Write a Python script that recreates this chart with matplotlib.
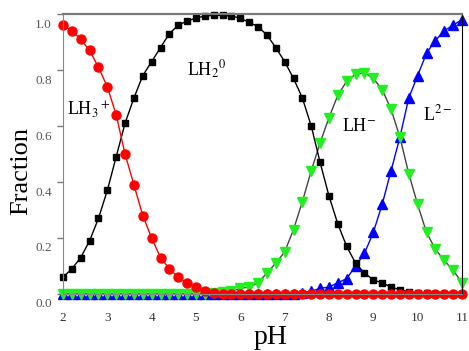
import matplotlib
matplotlib.use("Agg")
import matplotlib.pyplot as plt
import matplotlib.transforms as mtransforms

plt.rcParams['font.family'] = ['Liberation Serif', 'DejaVu Serif']
plt.rcParams['mathtext.fontset'] = 'stix'

# pH grid (0.2 steps)
ph = [2.0, 2.2, 2.4, 2.6, 2.8, 3.0, 3.2, 3.4, 3.6, 3.8,
      4.0, 4.2, 4.4, 4.6, 4.8, 5.0, 5.2, 5.4, 5.6, 5.8,
      6.0, 6.2, 6.4, 6.6, 6.8, 7.0, 7.2, 7.4, 7.6, 7.8,
      8.0, 8.2, 8.4, 8.6, 8.8, 9.0, 9.2, 9.4, 9.6, 9.8,
      10.0, 10.2, 10.4, 10.6, 10.8, 11.0]

# species fractions
lh3 = [0.96, 0.94, 0.91, 0.87, 0.81, 0.74, 0.64, 0.50, 0.39, 0.28,
       0.20, 0.13, 0.09, 0.06, 0.04, 0.025, 0.012, 0.005, 0.0, 0.0,
       0.0, 0.0, 0.0, 0.0, 0.0, 0.0, 0.0, 0.0, 0.0, 0.0,
       0.0, 0.0, 0.0, 0.0, 0.0, 0.0, 0.0, 0.0, 0.0, 0.0,
       0.0, 0.0, 0.0, 0.0, 0.0, 0.0]
lh2 = [0.06, 0.09, 0.13, 0.19, 0.27, 0.37, 0.49, 0.61, 0.70, 0.78,
       0.83, 0.88, 0.93, 0.96, 0.975, 0.985, 0.993, 0.995, 0.995, 0.993,
       0.985, 0.97, 0.955, 0.925, 0.88, 0.83, 0.77, 0.70, 0.60, 0.47,
       0.35, 0.25, 0.17, 0.11, 0.075, 0.05, 0.04, 0.025, 0.015, 0.008,
       0.004, 0.002, 0.0, 0.0, 0.0, 0.0]
lh = [0.0, 0.0, 0.0, 0.0, 0.0, 0.0, 0.0, 0.0, 0.0, 0.0,
      0.0, 0.0, 0.0, 0.0, 0.0, 0.0, 0.0, 0.003, 0.006, 0.01,
      0.02, 0.025, 0.04, 0.075, 0.11, 0.15, 0.23, 0.33, 0.44, 0.54,
      0.63, 0.71, 0.76, 0.785, 0.79, 0.77, 0.73, 0.66, 0.56, 0.43,
      0.32, 0.22, 0.16, 0.12, 0.085, 0.04]
l2 = [0.0, 0.0, 0.0, 0.0, 0.0, 0.0, 0.0, 0.0, 0.0, 0.0,
      0.0, 0.0, 0.0, 0.0, 0.0, 0.0, 0.0, 0.0, 0.0, 0.0,
      0.0, 0.0, 0.0, 0.0, 0.0, 0.0, 0.0, 0.005, 0.01, 0.02,
      0.025, 0.04, 0.055, 0.10, 0.145, 0.22, 0.32, 0.44, 0.56, 0.70,
      0.78, 0.86, 0.905, 0.94, 0.96, 0.98]

fig = plt.figure(figsize=(4.69, 3.51), dpi=100)
ax = fig.add_axes([0.1343, 0.1624, 0.8507, 0.7977])

ax.plot(ph, l2, color='#0000ff', lw=1, marker='^', ms=6.5, clip_on=False)
ax.plot(ph, lh, color='#444444', lw=1, marker='v', ms=6.5,
        mfc='#22ee22', mec='#22ee22', clip_on=False)
ax.plot(ph, lh2, color='black', lw=1, marker='s', ms=5, clip_on=False)
ax.plot(ph, lh3, color='#ff0000', lw=1, marker='o', ms=6.5, clip_on=False)

ax.set_xlim(2, 11)
ax.set_ylim(0, 1.0)
ax.set_xticks([2, 3, 4, 5, 6, 7, 8, 9, 10, 11])
ax.set_yticks([0.0, 0.2, 0.4, 0.6, 0.8, 1.0])
ax.set_yticklabels(['0.0', '0.2', '0.4', '0.6', '0.8', '1.0'])
ax.tick_params(axis='x', length=0, pad=13, labelsize=9.5, labelcolor='#333333')
ax.tick_params(axis='y', length=4, width=1, color='#777777', pad=4,
               labelsize=9.5, labelcolor='#555555')

# labels in the original sit a little below their tick marks
offset = mtransforms.ScaledTranslation(0, -0.09, fig.dpi_scale_trans)
for lab in ax.get_yticklabels():
    lab.set_transform(lab.get_transform() + offset)

for side in ['left', 'bottom']:
    ax.spines[side].set_color('#888888')
ax.spines['top'].set_color('#777777')
ax.spines['top'].set_linewidth(1.6)
ax.spines['right'].set_color('black')

ax.set_xlabel('pH', fontsize=20)
ax.xaxis.set_label_coords(0.519, -0.11)
ax.set_ylabel('Fraction', fontsize=19)
ax.yaxis.set_label_coords(-0.078, 0.44)

ax.text(2.09, 0.66, r'LH$_3$$^+$', fontsize=13, va='center', ha='left')
ax.text(4.8, 0.80, r'LH$_2$$^0$', fontsize=13, va='center', ha='left')
ax.text(8.29, 0.60, r'LH$^{-}$', fontsize=13, va='center', ha='left')
ax.text(10.12, 0.64, r'L$^{2-}$', fontsize=13, va='center', ha='left')

fig.savefig('out.png', dpi=100)
